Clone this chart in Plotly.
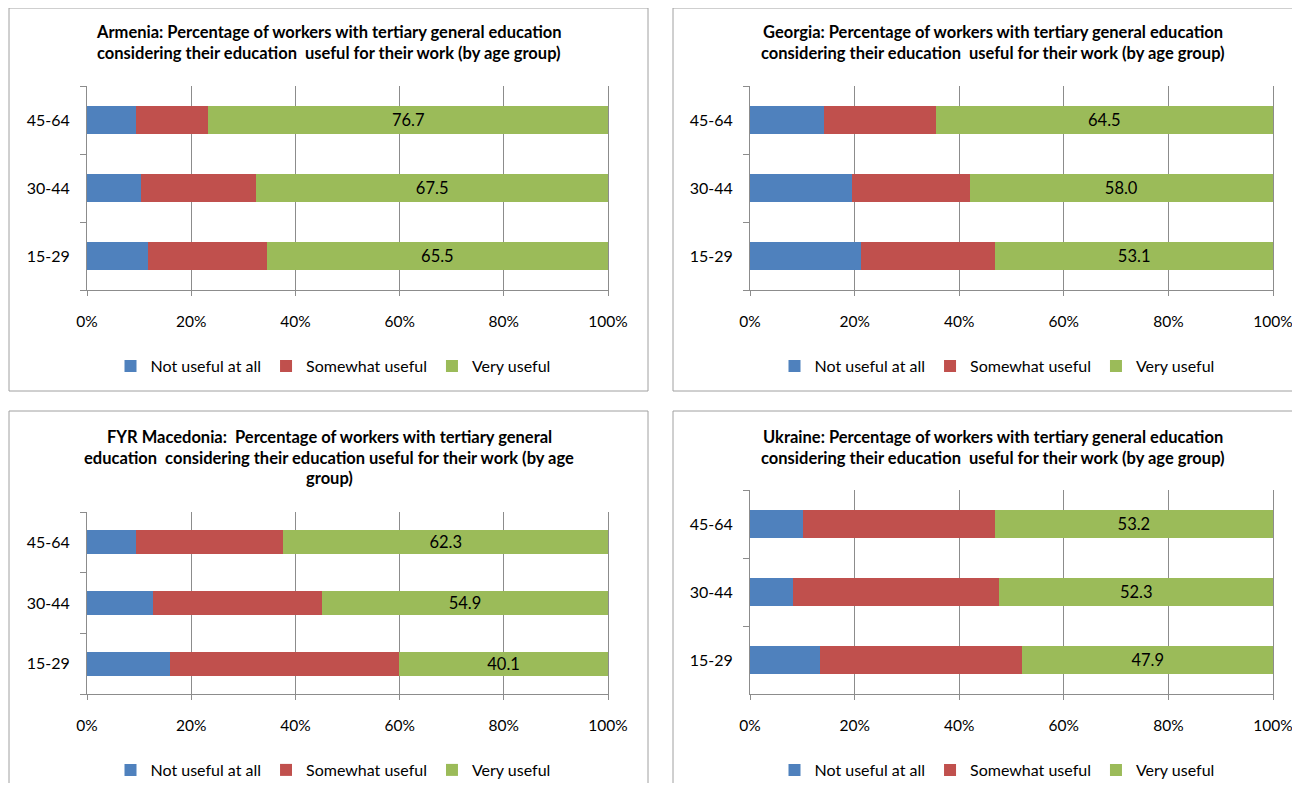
import plotly.graph_objects as go

# figure size chosen so that the page (with the browser's 8px body margin) fits the 1300x791 window
W, H = 1284, 775
OFF = 8
FONT = "Lato, 'Open Sans', sans-serif"

age_groups = ["15-29", "30-44", "45-64"]
series_names = ["Not useful at all", "Somewhat useful", "Very useful"]
colors = ["#4F81BD", "#C0504D", "#9BBB59"]
x_ticks = [0, 20, 40, 60, 80, 100]
x_tick_labels = ["0%", "20%", "40%", "60%", "80%", "100%"]

# values per age group (15-29, 30-44, 45-64)
armenia_not = [11.7, 10.4, 9.4]
armenia_some = [22.8, 22.1, 13.9]
armenia_very = [65.5, 67.5, 76.7]

georgia_not = [21.3, 19.5, 14.2]
georgia_some = [25.6, 22.5, 21.3]
georgia_very = [53.1, 58.0, 64.5]

macedonia_not = [16.0, 12.7, 9.4]
macedonia_some = [43.9, 32.4, 28.3]
macedonia_very = [40.1, 54.9, 62.3]

ukraine_not = [13.4, 8.3, 10.2]
ukraine_some = [38.7, 39.4, 36.6]
ukraine_very = [47.9, 52.3, 53.2]

armenia_title = ["Armenia: Percentage of workers with tertiary general education",
                 "considering their education  useful for their work (by age group)"]
georgia_title = ["Georgia: Percentage of workers with tertiary general education",
                 "considering their education  useful for their work (by age group)"]
macedonia_title = ["FYR Macedonia:  Percentage of workers with tertiary general",
                   "education  considering their education useful for their work (by age",
                   "group)"]
ukraine_title = ["Ukraine: Percentage of workers with tertiary general education",
                 "considering their education  useful for their work (by age group)"]

# layout geometry in window pixels
panels = [
    dict(data=[armenia_not, armenia_some, armenia_very], title=armenia_title,
         plot=(87, 608, 86, 290), title_y=[32, 53], title_x=329, legend_y=366, legend_x=333,
         box=(9, 8, 648, 391)),
    dict(data=[georgia_not, georgia_some, georgia_very], title=georgia_title,
         plot=(750, 1273, 86, 290), title_y=[32, 53], title_x=993, legend_y=366, legend_x=997,
         box=(673, 8, 1310, 391)),
    dict(data=[macedonia_not, macedonia_some, macedonia_very], title=macedonia_title,
         plot=(87, 608, 512, 694), title_y=[437, 458, 478], title_x=329, legend_y=770, legend_x=333,
         box=(9, 411, 648, 800)),
    dict(data=[ukraine_not, ukraine_some, ukraine_very], title=ukraine_title,
         plot=(750, 1273, 490, 694), title_y=[437, 458], title_x=993, legend_y=770, legend_x=997,
         box=(673, 411, 1310, 800)),
]

def px(x):
    return (x - OFF) / W

def py(y):
    return 1 - (y - OFF) / H

fig = go.Figure()
annotations = []
shapes = []
layout_upd = {}

for i, p in enumerate(panels):
    n = i + 1
    xa = "x" if n == 1 else f"x{n}"
    ya = "y" if n == 1 else f"y{n}"
    lg = "legend" if n == 1 else f"legend{n}"
    for s, (name, col) in enumerate(zip(series_names, colors)):
        vals = p["data"][s]
        fig.add_trace(go.Bar(
            y=age_groups, x=vals, orientation="h", name=name,
            marker=dict(color=col, line=dict(width=0)),
            xaxis=xa, yaxis=ya, legend=lg,
            text=[f"{v:.1f}" for v in vals] if s == 2 else None,
            textposition="inside" if s == 2 else "none",
            insidetextanchor="middle", constraintext="none",
            textfont=dict(family=FONT, size=16.5, color="black"),
            hoverinfo="x+y+name",
        ))
    x0, x1, y0, y1 = p["plot"]
    xkey = "xaxis" if n == 1 else f"xaxis{n}"
    ykey = "yaxis" if n == 1 else f"yaxis{n}"
    layout_upd[xkey] = dict(
        domain=[px(x0), px(x1)], range=[0, 100], anchor=ya, automargin=False,
        tickvals=x_ticks, ticktext=x_tick_labels, ticklabeloverflow="allow",
        showgrid=True, gridcolor="#8c8c8c", gridwidth=1,
        showline=True, linecolor="#8c8c8c", linewidth=1,
        ticks="outside", ticklen=5, tickcolor="#8c8c8c",
        ticklabelstandoff=12, zeroline=False,
        tickfont=dict(family=FONT, size=15.5, color="black"),
        fixedrange=True,
    )
    layout_upd[ykey] = dict(
        domain=[py(y1), py(y0)], anchor=xa, type="category", automargin=False,
        categoryorder="array", categoryarray=age_groups,
        range=[-0.5, 2.5],
        showline=True, linecolor="#8c8c8c", linewidth=1, mirror=True,
        ticks="outside", ticklen=6, tickcolor="#8c8c8c", tickson="boundaries",
        showgrid=False, ticklabelstandoff=13,
        tickfont=dict(family=FONT, size=16, color="black"),
        fixedrange=True,
    )
    layout_upd[lg] = dict(
        orientation="h", x=px(p["legend_x"]), y=py(p["legend_y"]),
        xanchor="center", yanchor="middle",
        font=dict(family=FONT, size=16, color="black"),
        bgcolor="rgba(0,0,0,0)", itemwidth=30, traceorder="normal",
        itemclick=False, itemdoubleclick=False,
    )
    for line, ty in zip(p["title"], p["title_y"]):
        annotations.append(dict(
            text=f"<b>{line}</b>", x=px(p["title_x"]), y=py(ty),
            xref="paper", yref="paper", xanchor="center", yanchor="middle",
            showarrow=False, font=dict(family=FONT, size=16.5, color="black"),
        ))
    bx0, by0, bx1, by1 = p["box"]
    shapes.append(dict(
        type="rect", xref="paper", yref="paper",
        x0=px(bx0), x1=px(bx1), y0=py(by1), y1=py(by0),
        line=dict(color="#a0a0a0", width=1), fillcolor="rgba(0,0,0,0)", layer="below",
    ))

fig.update_layout(
    width=W, height=H, autosize=False,
    margin=dict(l=0, r=0, t=0, b=0, autoexpand=False),
    paper_bgcolor="white", plot_bgcolor="white",
    barmode="stack", bargap=0.6,
    annotations=annotations, shapes=shapes,
    font=dict(family=FONT, size=16, color="black"),
    showlegend=True,
    **layout_upd,
)

fig.write_html("out.html", config={"displayModeBar": False})
